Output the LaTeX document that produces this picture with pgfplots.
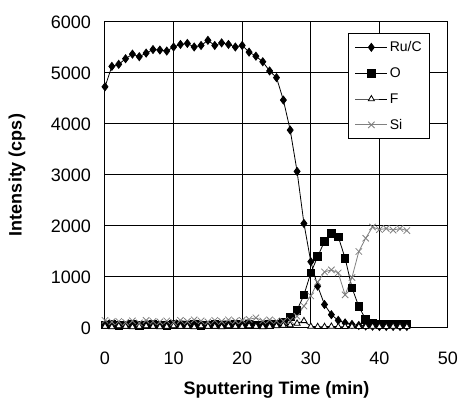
\documentclass[border=0pt]{standalone}
\usepackage{fontspec}
\setmainfont{Liberation Sans}
\usepackage{pgfplots}
\pgfplotsset{compat=1.18}
\begin{document}
\begin{tikzpicture}
\path[use as bounding box] (0pt,0pt) rectangle (460pt,401pt);
\begin{axis}[
  at={(105pt,73pt)}, anchor=south west,
  scale only axis, width=343pt, height=306pt,
  xmin=0, xmax=50, ymin=0, ymax=6000,
  xtick={0,10,20,30,40,50}, ytick={0,1000,2000,3000,4000,5000,6000},
  grid=major, grid style={black, line width=1pt},
  axis line style={black, line width=1pt},
  major tick length=0pt,
  tick label style={font=\fontsize{18}{20}\selectfont},
  /pgf/number format/assume math mode=true,
  scaled y ticks=false,
  /pgf/number format/set thousands separator={},
  xticklabel style={anchor=center, inner sep=0pt, yshift=-30pt},
  yticklabel style={anchor=east, inner sep=0pt, xshift=-14pt},
  xlabel={\bfseries Sputtering Time (min)},
  ylabel={\bfseries Intensity (cps)},
  label style={font=\fontsize{18}{20}\selectfont\bfseries},
  xlabel style={at={(axis description cs:0.5,-0.2026)}, anchor=center},
  ylabel style={at={(axis description cs:-0.2566,0.5)}, anchor=center},
  legend style={at={(0.948,0.964)}, anchor=north east, draw=black, line width=1pt,
    font=\fontsize{14}{16}\selectfont, row sep=10.5pt, inner xsep=6pt, inner ysep=6pt},
  legend cell align=left,
  legend image code/.code={\draw[mark repeat=2,mark phase=2,#1] plot coordinates {(0pt,0pt) (16pt,0pt) (32pt,0pt)};},
]
\addplot[black, line width=0.8pt, mark=diamond*, mark size=4pt] coordinates {
(0,4730)(1,5130)(2,5170)(3,5280)(4,5370)(5,5320)(6,5390)(7,5460)(8,5450)(9,5430)
(10,5510)(11,5560)(12,5580)(13,5510)(14,5540)(15,5640)(16,5540)(17,5590)(18,5560)(19,5510)
(20,5540)(21,5410)(22,5330)(23,5220)(24,5040)(25,4910)(26,4470)(27,3880)(28,3070)(29,2050)
(30,1300)(31,820)(32,460)(33,260)(34,150)(35,100)(36,70)(37,50)(38,40)(39,35)
(40,30)(41,30)(42,30)(43,30)(44,30)};
\addlegendentry{Ru/C}
\addplot[black, line width=0.8pt, mark=square*, mark size=3.8pt] coordinates {
(0,60)(1,70)(2,50)(3,60)(4,70)(5,50)(6,60)(7,70)(8,60)(9,50)
(10,70)(11,60)(12,60)(13,70)(14,50)(15,60)(16,70)(17,60)(18,60)(19,70)
(20,60)(21,70)(22,60)(23,60)(24,70)(25,80)(26,120)(27,220)(28,350)(29,650)
(30,1080)(31,1400)(32,1700)(33,1850)(34,1790)(35,1370)(36,790)(37,420)(38,170)(39,90)
(40,80)(41,80)(42,80)(43,80)(44,80)};
\addlegendentry{O}
\addplot[black, line width=0.8pt, mark=triangle*, mark size=3.5pt, mark options={fill=white}] coordinates {
(0,30)(1,20)(2,40)(3,30)(4,20)(5,30)(6,40)(7,30)(8,20)(9,30)
(10,40)(11,30)(12,30)(13,20)(14,40)(15,30)(16,30)(17,20)(18,40)(19,30)
(20,30)(21,40)(22,30)(23,20)(24,30)(25,40)(26,50)(27,60)(28,90)(29,140)
(30,30)(31,25)(32,25)(33,30)(34,25)(35,25)(36,30)(37,25)(38,25)(39,30)
(40,25)(41,25)(42,30)(43,25)(44,25)};
\addlegendentry{F}
\addplot[gray, line width=0.8pt, mark=x, mark size=4.5pt] coordinates {
(0,150)(1,120)(2,130)(3,110)(4,140)(5,100)(6,150)(7,130)(8,120)(9,140)
(10,110)(11,150)(12,130)(13,160)(14,140)(15,120)(16,150)(17,130)(18,160)(19,140)
(20,150)(21,170)(22,200)(23,140)(24,160)(25,140)(26,130)(27,150)(28,230)(29,430)
(30,630)(31,900)(32,1100)(33,1140)(34,1080)(35,650)(36,990)(37,1500)(38,1760)(39,1980)
(40,1930)(41,1950)(42,1920)(43,1950)(44,1910)};
\addlegendentry{Si}
\end{axis}
\end{tikzpicture}
\end{document}
